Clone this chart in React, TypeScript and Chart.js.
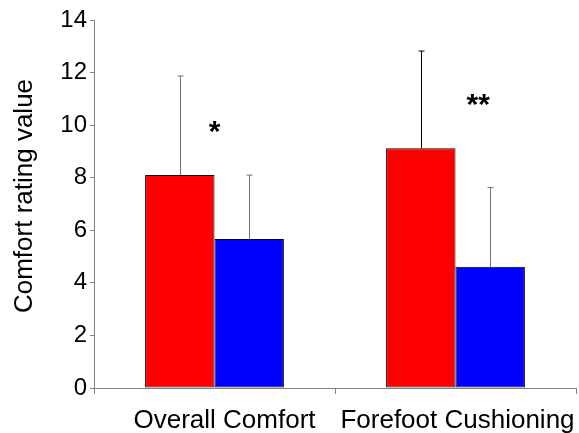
import React, { useEffect, useRef } from "react";
import { Chart, registerables } from "chart.js";

Chart.register(...registerables);

const categories = ["Overall Comfort", "Forefoot Cushioning"];
const redValues = [8.1, 9.12];
const redErrors = [3.77, 3.7];
const blueValues = [5.67, 4.61];
const blueErrors = [2.43, 3.02];
const yTicks = [0, 2, 4, 6, 8, 10, 12, 14];
const yTitle = "Comfort rating value";
const starLabels = ["*", "**"];
const starValues = [10.05, 11.07];
const starOffsets = [0, 0.094];
const labelShifts = [10, 2];

const FONT = "'Liberation Sans', Arial, sans-serif";

const errorBarPlugin = {
  id: "errorBars",
  afterDatasetsDraw(chart: any) {
    const ctx = chart.ctx;
    const y = chart.scales.y;
    const xs = chart.scales.x;
    const errs = [redErrors, blueErrors];
    const colors = [["#707070", "#000000"], ["#707070", "#707070"]];
    chart.data.datasets.forEach((ds: any, di: number) => {
      const meta = chart.getDatasetMeta(di);
      meta.data.forEach((bar: any, i: number) => {
        const v = ds.data[i] as number;
        const top = y.getPixelForValue(v + errs[di][i]);
        const x = Math.round(bar.x) + 0.5;
        ctx.save();
        ctx.strokeStyle = colors[di][i];
        ctx.lineWidth = 1;
        ctx.beginPath();
        ctx.moveTo(x, bar.y);
        ctx.lineTo(x, top);
        ctx.moveTo(x - 3, top);
        ctx.lineTo(x + 3, top);
        ctx.stroke();
        ctx.restore();
      });
    });
    const catW = xs.width / categories.length;
    ctx.save();
    ctx.fillStyle = "#000";
    ctx.font = `bold 30px ${FONT}`;
    ctx.textAlign = "center";
    ctx.textBaseline = "alphabetic";
    starLabels.forEach((s, i) => {
      const cx = xs.getPixelForValue(i) + starOffsets[i] * catW;
      const cy = y.getPixelForValue(starValues[i]);
      ctx.fillText(s, cx, cy + 0.57 * 30);
    });
    // category labels
    ctx.font = `26px ${FONT}`;
    ctx.textAlign = "center";
    ctx.textBaseline = "alphabetic";
    categories.forEach((c, i) => {
      ctx.fillText(c, xs.getPixelForValue(i) + labelShifts[i], xs.bottom - 5);
    });
    // y title
    ctx.translate(24.6, (chart.height - 41) / 2);
    ctx.rotate(-Math.PI / 2);
    ctx.textBaseline = "middle";
    ctx.fillText(yTitle, 0, 0);
    ctx.restore();
  },
};

export default function App() {
  const ref = useRef<HTMLCanvasElement>(null);
  useEffect(() => {
    document.body.style.margin = "0";
    const chart = new Chart(ref.current!, {
      type: "bar",
      data: {
        labels: categories,
        datasets: [
          {
            data: redValues,
            backgroundColor: "#ff0000",
            borderColor: "#000000",
            borderWidth: 1,
            borderSkipped: false,
            categoryPercentage: 0.576,
            barPercentage: 1,
          },
          {
            data: blueValues,
            backgroundColor: "#0000ff",
            borderColor: "#000000",
            borderWidth: 1,
            borderSkipped: false,
            categoryPercentage: 0.576,
            barPercentage: 1,
          },
        ],
      },
      options: {
        animation: false,
        responsive: false,
        maintainAspectRatio: false,
        layout: { padding: { left: 0, top: 20, right: 3, bottom: 0 } },
        plugins: { legend: { display: false }, tooltip: { enabled: false } },
        scales: {
          x: {
            offset: true,
            grid: {
              display: true,
              offset: true,
              drawOnChartArea: false,
              drawTicks: true,
              tickLength: 6,
              color: "#808080",
            },
            border: { display: true, color: "#808080", width: 1 },
            ticks: { display: false },
            afterFit: (s: any) => {
              s.height = 45;
            },
          },
          y: {
            min: 0,
            max: 14,
            afterBuildTicks: (s: any) => {
              s.ticks = yTicks.map((v) => ({ value: v }));
            },
            grid: {
              display: true,
              drawOnChartArea: false,
              drawTicks: true,
              tickLength: 4,
              color: "#808080",
            },
            border: { display: true, color: "#808080", width: 1 },
            ticks: {
              color: "#000",
              font: { family: FONT, size: 24 },
              padding: 3,
            },
            title: { display: false },
            afterFit: (s: any) => {
              s.width = 94;
            },
          },
        },
      },
      plugins: [errorBarPlugin],
    });
    return () => chart.destroy();
  }, []);
  return (
    <div style={{ position: "relative", width: 579, height: 433, background: "#fff" }}>
      <canvas ref={ref} width={579} height={433} />
    </div>
  );
}
